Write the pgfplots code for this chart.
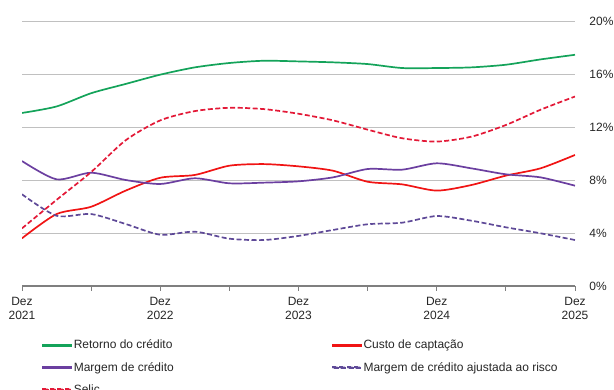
\documentclass[border=0pt]{standalone}
\usepackage{fontspec}
\setmainfont{Liberation Sans}
\usepackage{pgfplots}
\pgfplotsset{compat=1.18}
\usepackage{pgfplotstable}

\definecolor{cGreen}{HTML}{14A35A}
\definecolor{cRed}{HTML}{F01414}
\definecolor{cSelic}{HTML}{E31937}
\definecolor{cPurple}{HTML}{6B3FA0}
\definecolor{cPurpleD}{HTML}{5F4A98}
\definecolor{cGrid}{HTML}{C0C0C0}
\definecolor{cAxis}{HTML}{7F7F7F}
\definecolor{cText}{HTML}{262626}

% quarterly observations, t = 0 (Dez 2021) ... 16 (Dez 2025)
\pgfplotstableread{
t  ret    custo  marg   marga  selic
0  13.06  3.60   9.43   6.92   4.35
1  13.55  5.43   8.05   5.30   6.50
2  14.55  5.98   8.55   5.43   8.60
3  15.25  7.20   8.00   4.68   11.00
4  15.95  8.17   7.70   3.87   12.50
5  16.50  8.38   8.13   4.10   13.20
6  16.83  9.08   7.75   3.57   13.45
7  17.00  9.20   7.80   3.47   13.35
8  16.95  9.03   7.90   3.78   13.00
9  16.88  8.70   8.20   4.23   12.50
10 16.75  7.87   8.83   4.66   11.80
11 16.45  7.67   8.78   4.78   11.15
12 16.45  7.20   9.26   5.28   10.90
13 16.50  7.62   8.88   4.93   11.27
14 16.70  8.33   8.43   4.43   12.15
15 17.10  8.88   8.20   3.98   13.30
16 17.45  9.89   7.57   3.47   14.30
}\data

\tikzset{
  serie/.style={line width=1.7bp},
  tracejado/.style={line width=1.7bp, dash pattern=on 5bp off 2.5bp},
}
% legend keys drawn as filled bars (solid) or filled dashes (dashed)
\pgfplotsset{
  barra/.style={legend image code/.code={\fill[#1] (0bp,-0.85bp) rectangle (28bp,0.85bp);}},
  tracos/.style={legend image code/.code={%
    \fill[#1] (0bp,-0.9bp) rectangle (5bp,0.9bp)
              (7.5bp,-0.9bp) rectangle (12.5bp,0.9bp)
              (15bp,-0.9bp) rectangle (20bp,0.9bp)
              (22.5bp,-0.9bp) rectangle (27.5bp,0.9bp);}},
}

\begin{document}
\fontsize{12bp}{14bp}\selectfont
\begin{tikzpicture}
\path[use as bounding box] (0,0) rectangle (614bp,390bp);
\begin{axis}[
  at={(22bp,104bp)}, anchor=south west,
  scale only axis, width=553bp, height=265bp,
  xmin=0, xmax=16, ymin=0, ymax=20,
  axis x line=bottom, axis y line=right,
  x axis line style={-, draw=cAxis, line width=1.1bp},
  y axis line style={draw=none},
  xtick={0,2,...,16},
  xticklabels={{Dez\\2021},,{Dez\\2022},,{Dez\\2023},,{Dez\\2024},,{Dez\\2025}},
  xtick align=outside,
  major tick length=4.5bp,
  xtick style={draw=cAxis, line width=1bp},
  xticklabel style={align=center, font=\fontsize{12bp}{14bp}\selectfont, text=cText, yshift=-3bp},
  ytick={0,4,...,20},
  yticklabels={0\%,4\%,8\%,12\%,16\%,20\%},
  ytick style={draw=none},
  yticklabel style={anchor=west, xshift=8bp, font=\fontsize{12bp}{14bp}\selectfont, text=cText},
  ymajorgrids,
  grid style={draw=cGrid, line width=0.9bp},
  every axis plot/.append style={smooth, tension=0.45},
  legend columns=2,
  legend cell align=left,
  legend style={
    at={(0.036,-0.196)}, anchor=north west,
    draw=none, fill=none, inner sep=0pt,
    font=\color{cText}\fontsize{12bp}{14bp}\selectfont,
    row sep=7.5bp,
    /tikz/every even column/.append style={column sep=156bp},
  },
]
\addplot[cGreen, serie, barra=cGreen] table[x=t, y=ret] {\data};
\addlegendentry{Retorno do crédito}
\addplot[cRed, serie, barra=cRed] table[x=t, y=custo] {\data};
\addlegendentry{Custo de captação}
\addplot[cPurple, serie, barra=cPurple] table[x=t, y=marg] {\data};
\addlegendentry{Margem de crédito}
\addplot[cPurpleD, tracejado, tracos=cPurpleD] table[x=t, y=marga] {\data};
\addlegendentry{Margem de crédito ajustada ao risco}
\addplot[cSelic, tracejado, tracos=cSelic] table[x=t, y=selic] {\data};
\addlegendentry{Selic}
\end{axis}
\end{tikzpicture}
\end{document}
